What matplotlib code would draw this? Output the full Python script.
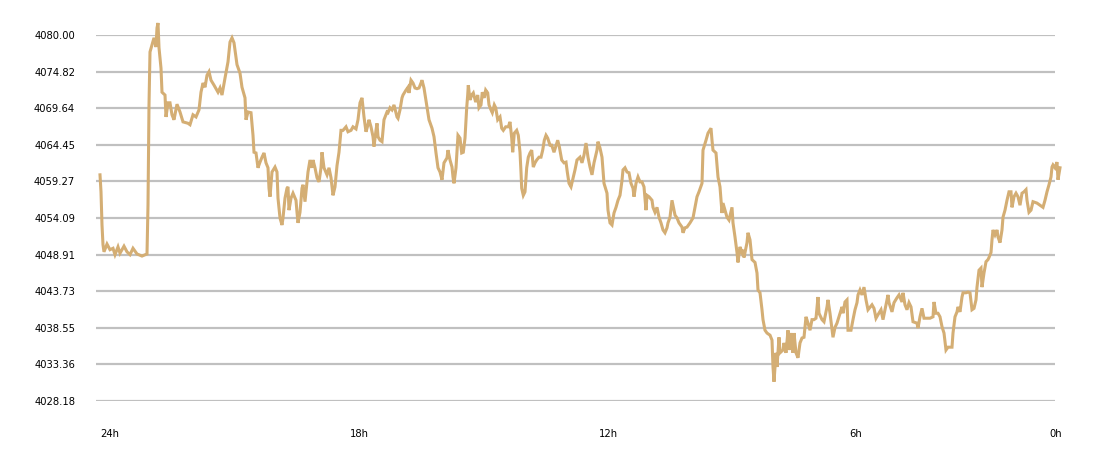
import matplotlib
matplotlib.use("Agg")
import matplotlib.pyplot as plt

# position along the 24h window (0 = 24h ago, 960 = now) and price
t = [0, 1, 2, 3, 4, 7, 10, 13, 15, 18, 20, 24, 27, 30, 33, 37, 42, 47,
     48, 49, 50, 52, 54, 56, 57, 58, 59, 61, 62, 65, 66, 68, 70, 72, 74, 77,
     80, 83, 88, 90, 93, 96, 99, 101, 103, 105, 107, 109, 111, 114,
     118, 120, 122, 125, 128, 130, 132, 134, 137, 140, 142, 145, 146, 148,
     151, 153, 154, 156, 158, 160, 162, 164, 166, 168, 169, 170, 172, 175,
     177, 178, 180, 182, 183, 185, 187, 188, 189, 191, 193, 196, 197, 198,
     200, 202, 203, 205, 207, 208, 210, 212, 213, 215, 217, 219, 221, 222,
     224, 227, 229, 231, 233, 235, 237, 239,
     241, 243, 246, 248, 251, 253, 256, 258, 260, 262, 264, 266, 268, 269,
     271, 273, 274, 276, 277, 278, 280, 282, 284, 287, 288, 290, 292, 294,
     297, 298, 300, 302, 303, 306, 308, 309, 311, 313, 315, 317, 319, 321,
     322, 324, 327, 329, 332, 334, 336, 338, 340, 342, 344, 347, 348, 350,
     352, 353, 354, 356, 358,
     360, 361.7, 363.3, 365, 366.7, 367.7, 368.3, 370, 371.7, 373.3,
     375.7, 377.7, 379, 381, 382.3, 384.3, 385.7, 387.7, 389, 391,
     392.3, 394.3, 395.7, 397.7, 400, 401.7, 403.3, 405.7, 408.3, 410,
     411.7, 412.7, 414.3, 416.7, 418.3, 420, 421, 421.7, 423.3, 425,
     426.7, 428.3, 430, 431.7, 433.3, 435, 436.7, 439, 441, 442.7,
     444.3, 446, 447.7, 450, 451.7, 454, 455.7, 457.7, 459.3, 461.7,
     464, 466, 467.3, 469, 471,
     475, 477, 480, 482, 484, 486, 488, 490, 492, 494, 497, 498, 500, 502,
     504, 507, 508, 510, 512, 514, 516, 518, 520, 522, 523, 525, 527, 529,
     531, 533, 534, 536, 538, 540, 542, 544, 546, 547, 549, 552, 553, 555,
     557, 559, 561, 563, 565, 567, 568, 570, 572, 573, 575, 577, 579, 582,
     583, 585, 587, 590, 593,
     597, 599, 602, 603, 606, 608, 611, 612, 613, 616, 618, 620, 622, 623,
     625, 627, 629, 632, 633, 635, 637, 638, 640, 642, 643, 644, 647, 648,
     650, 652, 655, 657, 658, 660, 662, 663, 665, 667, 670, 672, 673, 674,
     676, 677, 679, 680, 683, 684, 686, 688, 689, 691, 693, 694, 696, 698,
     700, 702, 704, 706, 708, 710, 712, 714, 716, 718, 719, 722, 724, 727,
     728, 730, 733, 735, 737, 740, 742, 743, 745, 747, 748, 751, 753, 755,
     757, 758, 760, 762, 764, 766, 768, 772, 774, 776, 778, 781, 783, 785,
     788, 789, 792, 794, 797, 799, 802, 803, 805, 807, 809, 811, 813, 817,
     818, 820, 822, 824, 827, 830, 833, 834, 836, 838, 840, 842, 844, 846,
     848, 852, 853, 855, 857, 858, 860, 862, 863, 866, 868, 870, 872, 874,
     876, 877, 879, 881, 882, 884, 886, 888, 889, 891, 892, 893, 895, 897,
     898, 900, 902, 903, 905, 907, 909, 911, 912, 914, 916, 918, 920, 922,
     924, 926, 927, 929, 931, 933, 937, 940, 943, 945, 947, 949, 951, 952,
     953, 955, 957, 958, 960]

price = [4060.2, 4057.8, 4053.1, 4050.3, 4049.3, 4050.4, 4049.6, 4049.8,
         4048.9, 4050.0, 4049.1, 4050.1, 4049.3, 4048.9, 4049.8, 4049.0,
         4048.7, 4049.0,
         4055.9, 4070.1, 4077.6, 4078.6, 4079.6, 4078.3, 4081.0, 4081.7,
         4078.2, 4075.3, 4071.9, 4071.5, 4068.4, 4070.4, 4070.4, 4068.7,
         4068.0, 4070.2, 4069.1, 4067.7, 4067.5, 4067.3, 4068.7, 4068.4,
         4069.4, 4071.9, 4073.2, 4072.6, 4074.3, 4074.8, 4073.6, 4072.9,
         4071.9, 4072.5, 4071.5, 4073.9, 4076.2, 4079.0, 4079.6, 4078.9,
         4075.8, 4074.6, 4072.6, 4071.1, 4068.0, 4069.1,
         4069.0, 4065.8, 4063.4, 4063.3, 4061.2, 4062.0, 4062.7, 4063.3,
         4061.9, 4061.2, 4058.3, 4057.1, 4060.6, 4061.3, 4060.6, 4056.9,
         4054.1, 4053.1, 4054.1, 4056.9, 4058.3, 4058.5, 4055.2, 4056.9,
         4057.6, 4056.6, 4054.9, 4053.4, 4054.9, 4058.3, 4058.8, 4056.4,
         4059.2, 4060.6, 4062.3, 4061.2, 4062.3, 4061.2, 4059.8, 4059.2,
         4061.2, 4063.4, 4061.2, 4060.2, 4061.2, 4059.8, 4057.3, 4058.5,
         4061.5, 4063.4,
         4066.5, 4066.5, 4067.0, 4066.3, 4066.5, 4067.0, 4066.7, 4068.0,
         4070.4, 4071.1, 4068.4, 4066.3, 4067.3, 4068.0, 4067.0, 4065.6,
         4064.2, 4066.5, 4067.5, 4065.6, 4065.1, 4064.9, 4068.0, 4069.1,
         4069.0, 4069.7, 4069.4, 4070.1, 4068.4, 4068.2, 4069.4, 4071.1,
         4071.5, 4072.2, 4072.6, 4071.8, 4073.6, 4073.2, 4072.5, 4072.4,
         4072.5, 4073.2, 4073.6, 4072.5, 4069.8, 4068.0, 4066.8, 4065.6,
         4063.3, 4061.2, 4060.6, 4059.5, 4061.9, 4062.6, 4063.7, 4062.3,
         4061.3, 4059.9, 4059.0, 4061.2, 4065.8,
         4065.4, 4063.3, 4063.4, 4065.4, 4069.7, 4071.5, 4072.9, 4070.8,
         4071.5, 4071.8, 4070.5, 4071.5, 4069.7, 4070.1, 4071.9, 4071.1,
         4072.2, 4071.8, 4070.1, 4069.4, 4069.0, 4070.1, 4069.7, 4068.0,
         4068.4, 4066.8, 4066.5, 4067.0, 4067.0, 4067.7, 4065.4, 4063.4,
         4066.1, 4066.5, 4065.8, 4063.4, 4060.6, 4058.3, 4057.3, 4057.8,
         4061.2, 4062.7, 4063.3, 4063.7, 4061.3, 4061.9, 4062.3, 4062.7,
         4062.7, 4063.7, 4065.1, 4065.8, 4065.4, 4064.4, 4064.4, 4063.4,
         4064.2, 4065.1, 4064.2, 4062.3, 4061.9, 4062.0, 4060.6, 4059.0,
         4058.5,
         4060.9, 4062.3, 4062.7, 4061.9, 4063.0, 4064.7, 4062.7, 4061.3,
         4060.2, 4061.9, 4063.7, 4064.9, 4064.0, 4062.7, 4059.0, 4057.6,
         4055.2, 4053.4, 4053.1, 4054.8, 4055.6, 4056.6, 4057.3, 4059.4,
         4060.9, 4061.2, 4060.6, 4060.5, 4059.0, 4058.3, 4057.1, 4059.0,
         4059.9, 4059.2, 4059.2, 4058.5, 4055.2, 4057.3, 4057.1, 4056.6,
         4055.6, 4054.9, 4055.6, 4054.2, 4053.4, 4052.4, 4052.0, 4052.7,
         4053.4, 4054.2, 4056.6, 4055.9, 4054.5, 4054.1, 4053.4, 4052.8,
         4052.0, 4052.7, 4052.8, 4053.4, 4054.1,
         4057.1, 4057.8, 4059.0, 4063.7, 4065.1, 4066.1, 4066.8, 4065.1,
         4063.7, 4063.3, 4059.9, 4058.5, 4054.8, 4056.2, 4055.2, 4054.2,
         4053.8, 4055.6, 4053.4, 4051.4, 4049.2, 4047.8, 4050.0, 4049.2,
         4049.6, 4048.5, 4050.6, 4052.0, 4051.0, 4048.2, 4047.8, 4046.3,
         4043.9, 4043.5, 4041.1, 4039.7, 4038.2, 4037.8, 4037.5, 4036.8,
         4033.0, 4030.9, 4035.0, 4033.0, 4037.2, 4035.0, 4035.4, 4036.4,
         4035.0, 4038.2, 4035.4, 4037.8, 4035.0, 4037.8, 4035.0, 4034.3,
         4036.4, 4037.1, 4037.2, 4040.1, 4039.2, 4038.2, 4039.7, 4039.7,
         4039.9, 4042.9, 4040.6, 4039.7, 4039.4, 4041.5, 4042.5, 4040.6,
         4037.2, 4038.6, 4039.2, 4040.6, 4041.5, 4040.6, 4042.2, 4042.5,
         4038.2, 4038.2, 4039.7, 4041.1, 4042.1, 4043.2, 4043.9, 4043.2,
         4044.3, 4042.5, 4041.1, 4041.8, 4041.3, 4039.9, 4040.4, 4041.1,
         4039.7, 4041.1, 4043.2, 4042.1, 4040.8, 4042.1, 4042.8, 4043.2,
         4042.2, 4043.5, 4041.8, 4041.1, 4042.1, 4041.5, 4039.4, 4039.2,
         4038.5, 4040.1, 4041.3, 4039.9, 4039.9, 4039.9, 4040.1, 4042.2,
         4040.6, 4040.6, 4040.1, 4038.7, 4037.8, 4035.4, 4035.8, 4035.8,
         4037.8, 4040.1, 4040.8, 4041.5, 4040.8, 4042.9, 4043.5, 4043.5,
         4043.6, 4043.5, 4041.1, 4041.3, 4042.5, 4044.3, 4046.7, 4047.0,
         4044.3, 4046.3, 4047.9, 4048.2, 4048.5, 4049.2, 4051.0, 4052.4,
         4051.7, 4052.4, 4051.4, 4050.6, 4052.4, 4054.2, 4055.2, 4056.6,
         4057.8, 4057.8, 4055.6, 4057.1, 4057.6, 4057.1, 4055.9, 4057.6,
         4057.8, 4058.1, 4056.6, 4054.9, 4055.2, 4056.4, 4056.2, 4055.9,
         4055.6, 4056.6, 4057.8, 4058.8, 4059.9, 4061.3, 4061.6, 4061.2,
         4062.0, 4059.5, 4061.2]

assert len(t) == len(price), (len(t), len(price))

y_ticks = [4028.18, 4033.36, 4038.55, 4043.73, 4048.91, 4054.09,
           4059.27, 4064.45, 4069.64, 4074.82, 4080.00]
x_tick_pos = [0, 250, 499, 749, 949]
x_tick_labels = ["24h", "18h", "12h", "6h", "0h"]

fig = plt.figure(figsize=(11, 4.58), dpi=100)
ax = fig.add_axes([96 / 1100, 1 - 401 / 458, 959 / 1100, 366 / 458])

for v in y_ticks:
    ax.axhline(v, color="#c0c0c0", linewidth=1.6, zorder=1)

ax.plot(t, price, color="#d4ae74", linewidth=2.2, clip_on=False,
        solid_joinstyle="miter", zorder=3)

ax.set_xlim(-4, 955)
ax.set_ylim(y_ticks[0], y_ticks[-1])

ax.set_yticks(y_ticks)
ax.set_yticklabels([f"{v:.2f}" for v in y_ticks])
ax.set_xticks(x_tick_pos)
ax.set_xticklabels(x_tick_labels, ha="left")

ax.tick_params(axis="y", length=0, pad=15, labelsize=7.2, labelcolor="black")
ax.tick_params(axis="x", length=0, pad=20, labelsize=7.2, labelcolor="black")
for s in ax.spines.values():
    s.set_visible(False)

fig.savefig("out.png", dpi=100)
